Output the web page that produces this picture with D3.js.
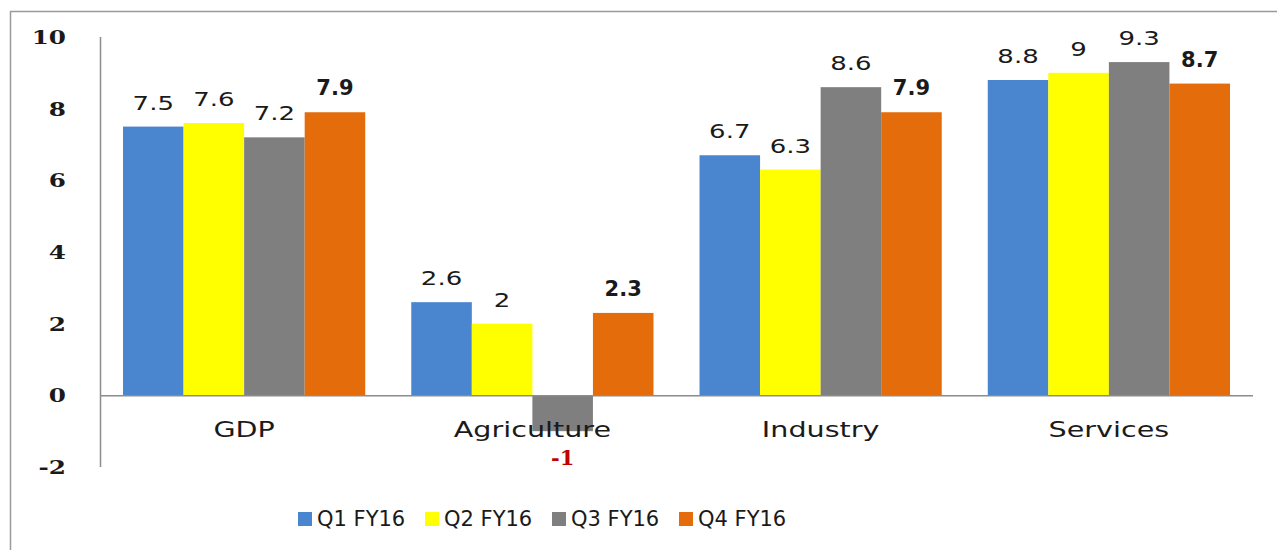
<!DOCTYPE html>
<html>
<head>
<meta charset="utf-8">
<script src="https://cdn.jsdelivr.net/npm/d3@7"></script>
<style>
  body { margin: 0; background: #fff; }
  svg { display: block; }
</style>
</head>
<body>
<svg class="chart"></svg>
<script>
const categories = ["GDP", "Agriculture", "Industry", "Services"]
const seriesNames = ["Q1 FY16", "Q2 FY16", "Q3 FY16", "Q4 FY16"]
const q1 = [7.5, 2.6, 6.7, 8.8]
const q2 = [7.6, 2, 6.3, 9]
const q3 = [7.2, -1, 8.6, 9.3]
const q4 = [7.9, 2.3, 7.9, 8.7]
const colors = ["#4a86d0", "#ffff00", "#7f7f7f", "#e46c0a"]
const yTicks = [-2, 0, 2, 4, 6, 8, 10]

const W = 1277, H = 550
const svg = d3.select("svg.chart").attr("width", W).attr("height", H)

// outer frame (runs off the right/bottom edge like the source)
svg.append("rect")
    .attr("x", 10.5).attr("y", 11.5)
    .attr("width", W + 20).attr("height", H + 20)
    .attr("fill", "none").attr("stroke", "#9a9a9a").attr("stroke-width", 1.5)

const y = d3.scaleLinear().domain([-2, 10]).range([467, 37])
const x0 = d3.scaleBand().domain(categories).range([100, 1253]).paddingInner(0)
const x1 = d3.scaleBand().domain(seriesNames).range([0, x0.bandwidth()]).paddingOuter(0.38)

const allSeries = [q1, q2, q3, q4]
const rows = []
categories.forEach((c, ci) => {
    seriesNames.forEach((s, si) => {
        rows.push({cat: c, series: s, si: si, value: allSeries[si][ci]})
    })
})

// stretched text helper, the source picture is wider than its fonts
function stretched(sel, sx) {
    return sel.attr("transform", d => `translate(${d.tx},${d.ty}) scale(${sx},1)`)
}

// y axis line
svg.append("line")
    .attr("x1", 100.5).attr("x2", 100.5)
    .attr("y1", y(10)).attr("y2", y(-2))
    .attr("stroke", "#8c8c8c").attr("stroke-width", 1.5)

// y tick labels
stretched(svg.append("g").selectAll("text")
    .data(yTicks.map(t => ({t: t, tx: 66, ty: y(t)})))
    .join("text")
    .attr("text-anchor", "end")
    .attr("dominant-baseline", "central")
    .style("font-family", "'DejaVu Serif', serif")
    .style("font-weight", "bold")
    .style("font-size", "19px")
    .attr("fill", "#1a1a1a")
    .text(d => d.t), 1.3)

// bars
svg.append("g").selectAll("rect")
    .data(rows)
    .join("rect")
    .attr("x", d => x0(d.cat) + x1(d.series))
    .attr("width", x1.bandwidth())
    .attr("y", d => y(Math.max(0, d.value)))
    .attr("height", d => Math.abs(y(d.value) - y(0)))
    .attr("fill", d => colors[d.si])

// zero line
svg.append("line")
    .attr("x1", 100).attr("x2", 1253)
    .attr("y1", y(0) + 0.5).attr("y2", y(0) + 0.5)
    .attr("stroke", "#8c8c8c").attr("stroke-width", 1.5)

// category labels
stretched(svg.append("g").selectAll("text")
    .data(categories.map(c => ({c: c, tx: x0(c) + x0.bandwidth() / 2, ty: 437})))
    .join("text")
    .attr("text-anchor", "middle")
    .style("font-family", "'DejaVu Sans', sans-serif")
    .style("font-size", "22px")
    .attr("fill", "#1a1a1a")
    .text(d => d.c), 1.3)

// value labels
const labelRows = rows.map(d => {
    const cx = x0(d.cat) + x1(d.series) + x1.bandwidth() / 2
    return Object.assign({}, d, {
        tx: cx,
        ty: d.value < 0 ? y(d.value) + 34 : y(d.value) - 17
    })
})
labelRows.forEach(d => {
    const bold = d.si === 3 || d.value < 0
    const t = svg.append("text")
        .datum(d)
        .attr("text-anchor", "middle")
        .style("font-family", d.value < 0 ? "'DejaVu Serif', serif" : "'DejaVu Sans', sans-serif")
        .style("font-weight", bold ? "bold" : "normal")
        .style("font-size", bold ? "21px" : "20px")
        .attr("fill", d.value < 0 ? "#c00000" : "#1a1a1a")
        .text(d.value)
    stretched(t, bold ? 1.0 : 1.3)
})

// legend
const legend = svg.append("g").selectAll("g")
    .data(seriesNames)
    .join("g")
    .attr("transform", (d, i) => `translate(${298 + i * 127},512)`)
legend.append("rect")
    .attr("width", 14).attr("height", 14)
    .attr("fill", (d, i) => colors[i])
legend.append("text")
    .attr("x", 19).attr("y", 14)
    .style("font-family", "'DejaVu Sans', sans-serif")
    .style("font-size", "21px")
    .attr("fill", "#1a1a1a")
    .text(d => d)
</script>
</body>
</html>
